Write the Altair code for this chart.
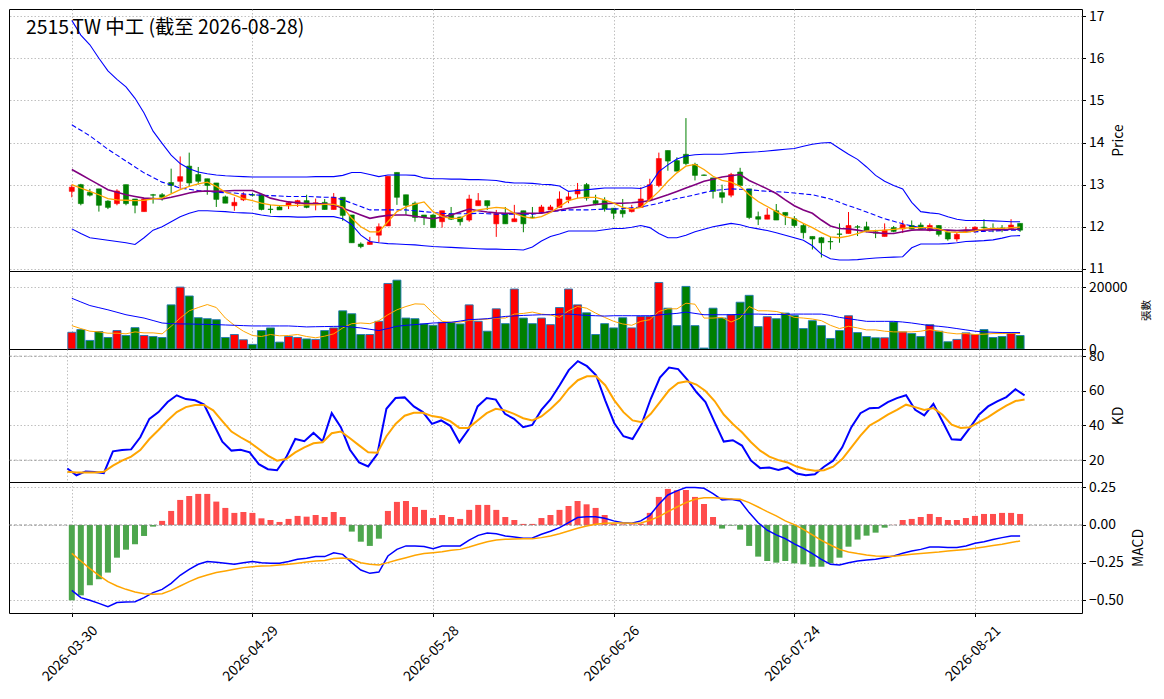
import altair as alt
import pandas as pd

FONT = "Noto Sans CJK TC"
TITLE = "2515.TW 中工 (截至 2026-08-28)"

_HOLIDAYS = {"2026-04-03", "2026-04-06", "2026-05-01", "2026-06-19"}
DATES = [d.strftime("%Y-%m-%d") for d in pd.bdate_range("2026-03-30", "2026-08-28")
         if d.strftime("%Y-%m-%d") not in _HOLIDAYS]
TICK_IDX = [0, 20, 40, 60, 80, 100]
TICK_LABELS = [DATES[i] for i in TICK_IDX]

OPEN = [12.84, 13.00, 12.82, 12.90, 12.61, 12.55, 13.00, 12.66, 12.36, 12.76,
        12.76, 13.05, 13.08, 13.44, 13.24, 13.14, 13.04, 12.71, 12.50, 12.64,
        12.76, 12.76, 12.42, 12.47, 12.50, 12.55, 12.62, 12.55, 12.58, 12.41,
        12.70, 12.28, 11.59, 11.58, 11.80, 12.02, 13.29, 12.76, 12.56, 12.28,
        12.28, 12.12, 12.30, 12.23, 12.16, 12.50, 12.62, 12.07, 12.31, 12.12,
        12.38, 12.23, 12.34, 12.40, 12.46, 12.64, 12.78, 13.00, 12.62, 12.62,
        12.44, 12.39, 12.36, 12.46, 12.64, 12.98, 13.81, 13.57, 13.72, 13.48,
        13.23, 13.16, 12.81, 12.75, 13.30, 12.90, 12.24, 12.18, 12.38, 12.34,
        12.19, 12.03, 11.77, 11.74, 11.65, 11.83, 11.84, 12.00, 12.00, 11.88,
        11.77, 11.98, 11.95, 12.03, 12.04, 11.91, 12.03, 11.87, 11.71, 11.88,
        11.89, 11.99, 11.95, 11.97, 11.96, 12.08]
HIGH = [13.00, 13.02, 12.90, 12.90, 12.63, 12.89, 13.00, 12.66, 12.68, 12.78,
        12.80, 13.38, 13.67, 13.76, 13.42, 13.14, 13.04, 12.74, 12.70, 12.82,
        12.80, 12.76, 12.52, 12.49, 12.60, 12.64, 12.76, 12.67, 12.66, 12.80,
        12.70, 12.28, 11.63, 11.76, 12.08, 13.20, 13.29, 12.76, 12.60, 12.28,
        12.30, 12.38, 12.47, 12.24, 12.76, 12.80, 12.62, 12.40, 12.47, 12.52,
        12.38, 12.47, 12.52, 12.52, 12.84, 12.82, 13.04, 13.04, 12.76, 12.70,
        12.44, 12.66, 12.52, 12.94, 13.14, 13.76, 13.81, 13.65, 14.58, 13.52,
        13.24, 13.16, 13.00, 13.28, 13.40, 12.90, 12.36, 12.44, 12.54, 12.34,
        12.25, 12.08, 11.77, 11.76, 11.76, 12.08, 12.35, 12.04, 12.12, 11.93,
        12.08, 12.02, 12.15, 12.15, 12.10, 12.08, 12.04, 11.88, 11.88, 12.00,
        12.01, 12.18, 12.08, 12.04, 12.18, 12.08]
LOW = [12.70, 12.51, 12.72, 12.36, 12.42, 12.51, 12.51, 12.32, 12.36, 12.55,
       12.62, 12.79, 12.90, 12.96, 13.00, 12.76, 12.47, 12.56, 12.38, 12.61,
       12.72, 12.39, 12.32, 12.40, 12.42, 12.47, 12.44, 12.39, 12.41, 12.41,
       12.14, 11.62, 11.49, 11.58, 11.63, 12.02, 12.52, 12.28, 12.12, 12.04,
       11.98, 11.98, 12.16, 12.03, 12.12, 12.50, 12.40, 11.76, 12.07, 12.12,
       11.87, 12.21, 12.32, 12.40, 12.46, 12.56, 12.68, 12.62, 12.51, 12.36,
       12.18, 12.22, 12.34, 12.46, 12.62, 12.94, 13.33, 13.32, 13.46, 13.10,
       13.21, 12.67, 12.56, 12.70, 12.98, 12.18, 12.04, 12.18, 12.16, 12.04,
       11.98, 11.72, 11.46, 11.27, 11.46, 11.62, 11.84, 11.78, 11.87, 11.73,
       11.77, 11.87, 11.85, 11.94, 11.94, 11.89, 11.77, 11.67, 11.65, 11.86,
       11.86, 11.94, 11.87, 11.87, 11.94, 11.88]
CLOSE = [12.94, 12.55, 12.75, 12.51, 12.46, 12.85, 12.55, 12.51, 12.66, 12.75,
         12.70, 12.98, 13.19, 13.04, 13.08, 12.98, 12.65, 12.56, 12.58, 12.76,
         12.75, 12.41, 12.41, 12.40, 12.57, 12.62, 12.46, 12.57, 12.41, 12.70,
         12.27, 11.62, 11.53, 11.64, 12.00, 13.20, 12.70, 12.51, 12.22, 12.22,
         11.98, 12.38, 12.18, 12.12, 12.66, 12.62, 12.50, 12.31, 12.07, 12.19,
         12.07, 12.22, 12.47, 12.47, 12.66, 12.71, 12.88, 12.68, 12.55, 12.42,
         12.32, 12.31, 12.42, 12.66, 13.00, 13.62, 13.56, 13.32, 13.50, 13.22,
         13.22, 12.84, 12.70, 13.24, 12.98, 12.22, 12.18, 12.28, 12.16, 12.27,
         12.03, 11.86, 11.71, 11.62, 11.64, 11.82, 12.03, 11.99, 11.91, 11.85,
         11.92, 11.89, 12.05, 11.95, 11.96, 12.03, 11.82, 11.71, 11.82, 11.92,
         11.99, 11.98, 11.94, 11.96, 12.04, 11.92]

MA5 = [13.00, 12.92, 12.84, 12.76, 12.67, 12.64, 12.63, 12.62, 12.63, 12.66,
       12.68, 12.78, 12.88, 12.96, 13.02, 13.06, 12.96, 12.82, 12.75, 12.67,
       12.62, 12.56, 12.52, 12.50, 12.50, 12.51, 12.52, 12.52, 12.53, 12.53,
       12.47, 12.20, 12.00, 11.88, 11.88, 12.12, 12.36, 12.47, 12.54, 12.59,
       12.36, 12.24, 12.20, 12.20, 12.32, 12.40, 12.43, 12.46, 12.44, 12.32,
       12.24, 12.20, 12.24, 12.34, 12.48, 12.62, 12.68, 12.70, 12.70, 12.64,
       12.56, 12.46, 12.42, 12.46, 12.64, 12.84, 13.08, 13.28, 13.44, 13.48,
       13.36, 13.20, 13.10, 13.06, 12.96, 12.76, 12.60, 12.48, 12.36, 12.24,
       12.19, 12.08, 11.98, 11.86, 11.76, 11.74, 11.78, 11.84, 11.90, 11.91,
       11.92, 11.94, 11.96, 11.98, 11.98, 11.98, 11.95, 11.88, 11.87, 11.87,
       11.90, 11.95, 11.96, 11.96, 11.98, 11.99]
MA10 = [13.36, 13.24, 13.12, 13.00, 12.88, 12.82, 12.76, 12.72, 12.68, 12.67,
        12.66, 12.70, 12.75, 12.80, 12.84, 12.85, 12.84, 12.85, 12.86, 12.86,
        12.86, 12.78, 12.68, 12.63, 12.59, 12.57, 12.55, 12.55, 12.54, 12.52,
        12.44, 12.36, 12.28, 12.20, 12.24, 12.27, 12.28, 12.28, 12.25, 12.22,
        12.19, 12.23, 12.28, 12.35, 12.42, 12.38, 12.35, 12.33, 12.32, 12.32,
        12.32, 12.32, 12.32, 12.36, 12.40, 12.44, 12.47, 12.50, 12.53, 12.55,
        12.56, 12.56, 12.57, 12.59, 12.62, 12.69, 12.76, 12.84, 12.92, 13.00,
        13.08, 13.13, 13.18, 13.21, 13.24, 13.10, 13.00, 12.90, 12.79, 12.64,
        12.50, 12.40, 12.32, 12.16, 12.02, 11.96, 11.95, 11.92, 11.88, 11.86,
        11.84, 11.84, 11.88, 11.92, 11.93, 11.92, 11.92, 11.92, 11.91, 11.92,
        11.92, 11.92, 11.93, 11.93, 11.94, 11.94]
BB_MID = [14.42, 14.29, 14.16, 14.00, 13.84, 13.70, 13.56, 13.42, 13.28, 13.17,
          13.06, 12.99, 12.92, 12.89, 12.86, 12.84, 12.82, 12.81, 12.80, 12.78,
          12.76, 12.75, 12.74, 12.73, 12.72, 12.72, 12.72, 12.71, 12.70, 12.70,
          12.64, 12.56, 12.48, 12.40, 12.40, 12.40, 12.40, 12.40, 12.38, 12.36,
          12.34, 12.32, 12.31, 12.31, 12.31, 12.32, 12.31, 12.30, 12.30, 12.30,
          12.30, 12.30, 12.33, 12.36, 12.38, 12.40, 12.40, 12.40, 12.41, 12.42,
          12.42, 12.43, 12.45, 12.47, 12.51, 12.56, 12.62, 12.67, 12.71, 12.76,
          12.81, 12.86, 12.88, 12.90, 12.89, 12.88, 12.86, 12.84, 12.83, 12.82,
          12.80, 12.78, 12.76, 12.71, 12.66, 12.58, 12.50, 12.43, 12.35, 12.27,
          12.19, 12.13, 12.07, 12.02, 11.98, 11.95, 11.92, 11.91, 11.90, 11.89,
          11.88, 11.89, 11.90, 11.91, 11.92, 11.92]
BB_UP = [16.90, 16.55, 16.32, 16.00, 15.70, 15.50, 15.32, 15.05, 14.70, 14.27,
         13.98, 13.70, 13.50, 13.38, 13.30, 13.26, 13.23, 13.21, 13.20, 13.19,
         13.18, 13.18, 13.18, 13.18, 13.18, 13.18, 13.18, 13.19, 13.19, 13.19,
         13.22, 13.29, 13.29, 13.24, 13.19, 13.23, 13.23, 13.23, 13.22, 13.16,
         13.14, 13.14, 13.13, 13.13, 13.12, 13.12, 13.11, 13.10, 13.06, 13.04,
         13.04, 13.03, 13.01, 13.00, 12.97, 12.84, 12.86, 12.88, 12.90, 12.92,
         12.92, 12.92, 12.92, 12.91, 12.99, 13.31, 13.47, 13.61, 13.68, 13.71,
         13.72, 13.72, 13.72, 13.74, 13.76, 13.77, 13.78, 13.80, 13.82, 13.84,
         13.86, 13.91, 13.96, 13.99, 14.00, 13.86, 13.72, 13.60, 13.42, 13.22,
         13.08, 12.98, 12.90, 12.58, 12.36, 12.33, 12.31, 12.24, 12.18, 12.15,
         12.15, 12.15, 12.14, 12.13, 12.12, 12.12]
BB_LOW = [11.95, 11.84, 11.74, 11.71, 11.68, 11.65, 11.62, 11.58, 11.74, 11.92,
          12.00, 12.12, 12.24, 12.32, 12.38, 12.38, 12.37, 12.36, 12.34, 12.33,
          12.32, 12.28, 12.25, 12.24, 12.24, 12.23, 12.23, 12.24, 12.24, 12.24,
          12.19, 12.05, 11.80, 11.65, 11.62, 11.60, 11.59, 11.58, 11.57, 11.55,
          11.53, 11.52, 11.51, 11.50, 11.49, 11.48, 11.47, 11.47, 11.46, 11.46,
          11.45, 11.52, 11.66, 11.77, 11.83, 11.90, 11.90, 11.90, 11.90, 11.93,
          11.96, 11.96, 11.99, 12.03, 11.98, 11.84, 11.74, 11.74, 11.80, 11.88,
          11.94, 12.00, 12.04, 12.08, 12.05, 11.99, 11.95, 11.91, 11.86, 11.80,
          11.74, 11.68, 11.55, 11.35, 11.24, 11.21, 11.21, 11.22, 11.24, 11.26,
          11.27, 11.28, 11.29, 11.50, 11.59, 11.59, 11.59, 11.60, 11.62, 11.65,
          11.66, 11.67, 11.69, 11.73, 11.78, 11.79]

VOL = [5400, 6280, 2770, 5640, 3720, 5960, 4360, 6900, 4360, 4040,
       3720, 14260, 20000, 17130, 10110, 9790, 9470, 3720, 4680, 2980,
       1490, 5960, 6810, 2230, 4040, 3720, 3250, 3090, 5960, 6810,
       12340, 11390, 4680, 4680, 8940, 21170, 22240, 10000, 9790, 8090,
       7660, 8620, 8620, 8090, 14260, 8940, 5750, 12980, 8190, 19370,
       10000, 8190, 10000, 7870, 13400, 19370, 14260, 11700, 4680, 8190,
       6810, 10110, 6810, 10530, 10530, 21490, 13190, 7550, 20220, 7550,
       300, 13190, 10000, 11070, 15110, 17340, 7230, 10430, 9790, 11600,
       10850, 6600, 9150, 7550, 3400, 5960, 10750, 5320, 4040, 3620,
       3620, 8720, 5530, 5000, 4040, 7870, 5750, 2340, 3090, 5210,
       4680, 6280, 3720, 4040, 5100, 4360]
VMA5 = [7550, 6600, 5750, 5530, 5100, 5100, 4900, 5530, 5210, 5210,
        4900, 7340, 10000, 12340, 13400, 14360, 13400, 10000, 7660, 5750,
        4360, 4040, 4680, 4260, 4360, 4680, 4040, 3620, 4150, 4900,
        6810, 8190, 8400, 8190, 9150, 11070, 12660, 13730, 14580, 14470,
        11600, 8940, 8620, 8720, 9260, 9470, 9680, 10000, 10000, 11280,
        11490, 11920, 11280, 11000, 10210, 12340, 13730, 13190, 11600, 10210,
        8940, 8090, 7660, 8940, 9470, 12130, 12980, 12980, 14790, 14470,
        10000, 10000, 10210, 8720, 10000, 13730, 12340, 12340, 12130, 11380,
        10210, 10000, 9680, 9150, 7660, 6600, 7340, 6810, 6170, 6170,
        5750, 5530, 5530, 5530, 5750, 6280, 5750, 5210, 4890, 4990,
        4680, 4790, 4990, 4990, 5100, 4990]
VMA20 = [16390, 15200, 14040, 13350, 12660, 11870, 11070, 10530, 10000, 9200,
         8400, 8190, 8100, 8080, 8000, 7950, 7870, 7760, 7660, 7550,
         7450, 7450, 7450, 7450, 7450, 7300, 7130, 7200, 7250, 7300,
         7340, 7080, 6810, 6380, 5960, 6600, 7340, 7660, 7870, 8130,
         8400, 8500, 8620, 9040, 9470, 9630, 9790, 10160, 10530, 10690,
         10850, 10960, 11070, 11070, 11280, 11280, 11070, 10850, 10750, 10640,
         10750, 10750, 10750, 10750, 10750, 11000, 11280, 11500, 11920, 11500,
         11070, 11070, 11070, 11070, 11180, 11280, 11280, 11180, 11180, 11180,
         11280, 11280, 11280, 11280, 10850, 10210, 9790, 9360, 8940, 8940,
         8940, 8940, 8720, 8400, 7980, 7550, 7340, 7020, 6600, 6170,
         5750, 5530, 5420, 5320, 5320, 5320]

K = [15.2, 11.3, 13.5, 13.1, 12.5, 25.1, 25.8, 26.2, 33.2, 43.8,
     47.7, 53.5, 57.4, 55.2, 54.5, 52.1, 41.3, 30.7, 25.5, 26.0,
     24.5, 17.7, 14.8, 14.2, 21.6, 32.2, 30.9, 35.7, 30.9, 47.1,
     39.0, 26.0, 18.7, 16.4, 23.5, 49.6, 55.8, 56.2, 51.0, 47.7,
     40.9, 42.9, 39.8, 30.3, 37.6, 51.0, 55.8, 54.9, 46.7, 43.8,
     39.0, 40.3, 49.0, 55.0, 63.2, 71.9, 77.1, 74.2, 69.0, 54.5,
     41.3, 33.8, 32.2, 40.9, 55.4, 67.6, 73.4, 72.5, 66.5, 59.3,
     53.5, 41.9, 30.7, 31.5, 28.4, 19.7, 15.4, 15.8, 14.4, 15.8,
     12.3, 11.3, 11.9, 16.2, 19.7, 27.4, 39.0, 47.1, 50.0, 50.2,
     53.5, 55.8, 57.4, 49.0, 45.8, 52.5, 42.3, 32.0, 31.7, 38.6,
     46.2, 51.0, 53.9, 56.4, 60.9, 57.4]
D = [13.3, 12.9, 12.9, 12.9, 13.3, 16.8, 19.7, 22.0, 25.8, 32.2,
     37.4, 42.9, 47.7, 50.6, 51.8, 51.8, 48.7, 42.5, 36.5, 33.2,
     30.3, 26.4, 22.6, 19.7, 20.7, 24.5, 27.4, 29.7, 30.3, 35.5,
     36.5, 32.6, 28.5, 24.5, 24.3, 33.8, 40.9, 45.6, 47.3, 47.3,
     45.4, 44.6, 42.5, 38.6, 38.6, 42.9, 47.1, 49.6, 48.7, 46.7,
     44.2, 42.9, 45.2, 49.5, 54.5, 61.2, 66.1, 68.4, 68.4, 63.2,
     54.5, 47.7, 42.9, 41.9, 46.7, 53.5, 60.3, 64.5, 65.5, 63.6,
     59.9, 54.1, 46.3, 40.9, 36.1, 30.3, 25.5, 22.0, 20.0, 18.7,
     16.3, 14.8, 13.9, 14.2, 16.2, 20.6, 27.4, 34.2, 40.0, 42.9,
     46.2, 49.0, 52.0, 50.6, 49.0, 50.0, 46.2, 40.5, 38.6, 39.0,
     41.9, 44.8, 48.3, 51.4, 54.1, 55.0]

HIST = [-0.500, -0.467, -0.400, -0.360, -0.316, -0.217, -0.164, -0.128, -0.073, -0.011,
        0.027, 0.093, 0.166, 0.192, 0.206, 0.206, 0.155, 0.113, 0.080, 0.086,
        0.080, 0.044, 0.033, 0.020, 0.040, 0.060, 0.055, 0.066, 0.053, 0.086,
        0.053, -0.044, -0.111, -0.139, -0.091, 0.093, 0.153, 0.159, 0.119, 0.100,
        0.046, 0.066, 0.053, 0.040, 0.100, 0.133, 0.133, 0.100, 0.053, 0.033,
        0.007, 0.007, 0.046, 0.066, 0.100, 0.126, 0.159, 0.137, 0.113, 0.066,
        0.009, 0.004, 0.004, 0.009, 0.080, 0.186, 0.239, 0.230, 0.232, 0.186,
        0.139, 0.053, -0.024, -0.004, -0.031, -0.139, -0.210, -0.239, -0.250, -0.239,
        -0.255, -0.261, -0.277, -0.277, -0.254, -0.217, -0.144, -0.097, -0.071, -0.051,
        -0.018, 0.001, 0.033, 0.040, 0.053, 0.073, 0.053, 0.033, 0.033, 0.046,
        0.060, 0.073, 0.073, 0.080, 0.080, 0.073]
DIF = [-0.434, -0.482, -0.500, -0.520, -0.542, -0.515, -0.511, -0.509, -0.482, -0.449,
       -0.427, -0.387, -0.334, -0.294, -0.261, -0.243, -0.248, -0.254, -0.261, -0.250,
       -0.243, -0.250, -0.254, -0.254, -0.243, -0.228, -0.221, -0.210, -0.210, -0.184,
       -0.195, -0.250, -0.299, -0.321, -0.312, -0.206, -0.162, -0.139, -0.139, -0.143,
       -0.157, -0.139, -0.139, -0.139, -0.100, -0.069, -0.053, -0.058, -0.073, -0.080,
       -0.088, -0.086, -0.062, -0.042, -0.018, 0.015, 0.049, 0.055, 0.055, 0.044,
       0.027, 0.015, 0.011, 0.027, 0.064, 0.137, 0.199, 0.226, 0.248, 0.248,
       0.243, 0.208, 0.166, 0.170, 0.159, 0.082, 0.015, -0.035, -0.066, -0.091,
       -0.126, -0.155, -0.190, -0.228, -0.261, -0.265, -0.250, -0.239, -0.232, -0.228,
       -0.217, -0.206, -0.188, -0.173, -0.162, -0.146, -0.146, -0.150, -0.150, -0.139,
       -0.122, -0.111, -0.097, -0.084, -0.073, -0.073]
DEA = [-0.188, -0.239, -0.290, -0.334, -0.376, -0.405, -0.427, -0.445, -0.456, -0.460,
       -0.456, -0.434, -0.405, -0.376, -0.350, -0.332, -0.316, -0.305, -0.294, -0.283,
       -0.277, -0.272, -0.270, -0.265, -0.261, -0.254, -0.246, -0.239, -0.235, -0.223,
       -0.219, -0.228, -0.250, -0.261, -0.265, -0.250, -0.232, -0.217, -0.201, -0.190,
       -0.184, -0.177, -0.168, -0.162, -0.146, -0.128, -0.111, -0.100, -0.095, -0.093,
       -0.092, -0.091, -0.084, -0.073, -0.058, -0.040, -0.022, -0.007, 0.004, 0.011,
       0.013, 0.013, 0.011, 0.013, 0.031, 0.055, 0.088, 0.119, 0.148, 0.170,
       0.181, 0.181, 0.177, 0.173, 0.170, 0.148, 0.119, 0.088, 0.060, 0.027,
       0.002, -0.029, -0.066, -0.102, -0.133, -0.162, -0.179, -0.190, -0.199, -0.206,
       -0.208, -0.207, -0.201, -0.195, -0.190, -0.184, -0.180, -0.173, -0.168, -0.162,
       -0.155, -0.146, -0.137, -0.128, -0.117, -0.106]

N = len(DATES)
for _arr in (OPEN, HIGH, LOW, CLOSE, MA5, MA10, BB_MID, BB_UP, BB_LOW, VOL, VMA5,
             VMA20, K, D, HIST, DIF, DEA):
    assert len(_arr) == N, len(_arr)

df = pd.DataFrame({
    "i": list(range(N)), "date": DATES,
    "o": OPEN, "h": HIGH, "l": LOW, "c": CLOSE,
    "ma5": MA5, "ma10": MA10, "mid": BB_MID, "up": BB_UP, "lo": BB_LOW,
    "vol": VOL, "vma5": VMA5, "vma20": VMA20,
    "k": K, "d": D, "hist": HIST, "dif": DIF, "dea": DEA,
})
df["dir"] = ["up" if c > o else "down" for o, c in zip(OPEN, CLOSE)]

W = 1073
GRID = dict(grid=True, gridDash=[1.5, 2], gridColor="#b0b0b0", gridWidth=0.8)
xscale = alt.Scale(domain=[-6.4, 111.3], nice=False, zero=False)
x_hidden = alt.Axis(values=TICK_IDX, labels=False, ticks=False, domain=False,
                    title=None, **GRID)
label_arr = "[" + ",".join("'%s'" % s for s in TICK_LABELS) + "]"
x_bottom = alt.Axis(values=TICK_IDX, labelExpr=label_arr + "[round(datum.value/20)]",
                    labelAngle=315, labelAlign="center", labelBaseline="middle",
                    labelPadding=37, labelOverlap=False, labelFontSize=13.9,
                    labelOffset=-2,
                    tickSize=3.5, tickColor="black", domain=False, title=None, **GRID)


def yaxis(values, title, fmt=None, tfs=13.9, pad=8, expr=None):
    kw = dict(orient="right", values=values, title=title, titleAngle=270,
              titleBaseline="top", titlePadding=pad, titleFontSize=tfs,
              titleFontWeight="normal", tickSize=3.5, tickColor="black",
              labelFontSize=13.9, labelPadding=3, domain=False, **GRID)
    if fmt:
        kw["format"] = fmt
    if expr:
        kw["labelExpr"] = expr
    return alt.Axis(**kw)


UP_COLOR, DOWN_COLOR = "#ff0000", "#008000"
cscale = alt.Scale(domain=["up", "down"], range=[UP_COLOR, DOWN_COLOR])

# ---------- price panel ----------
pscale = alt.Scale(domain=[10.95, 17.17], nice=False, zero=False)
pax = yaxis([11, 12, 13, 14, 15, 16, 17], "Price")


def PY(f):
    return alt.Y(f + ":Q", scale=pscale, axis=pax)


pb = alt.Chart(df).encode(x=alt.X("i:Q", scale=xscale, axis=x_hidden))
wick = pb.mark_rule(strokeWidth=1).encode(
    y=PY("l"), y2="h:Q", color=alt.Color("dir:N", scale=cscale, legend=None))
body = pb.mark_bar(size=5, strokeWidth=0.6).encode(
    y=PY("o"), y2="c:Q",
    color=alt.Color("dir:N", scale=cscale, legend=None),
    stroke=alt.Stroke("dir:N", scale=cscale, legend=None))
l_up = pb.mark_line(color="#0000ff", strokeWidth=1.1).encode(y=PY("up"))
l_lo = pb.mark_line(color="#0000ff", strokeWidth=1.1).encode(y=PY("lo"))
l_mid = pb.mark_line(color="#0000ff", strokeWidth=1.1, strokeDash=[5, 2.5]).encode(y=PY("mid"))
l_ma10 = pb.mark_line(color="#800080", strokeWidth=1.6).encode(y=PY("ma10"))
l_ma5 = pb.mark_line(color="#ffa500", strokeWidth=1.3).encode(y=PY("ma5"))
title = alt.Chart(pd.DataFrame({"t": [TITLE]})).mark_text(
    align="left", baseline="top", font=FONT, fontSize=19.4, color="black"
).encode(text="t:N", x=alt.value(17), y=alt.value(10))
price = alt.layer(wick, body, l_up, l_lo, l_mid, l_ma10, l_ma5, title).properties(
    width=W, height=262)

# ---------- volume panel ----------
vscale = alt.Scale(domain=[0, 25200], nice=False)
vax = yaxis([0, 20000], "張數", fmt="d", tfs=10.5, pad=14)


def VY(f):
    return alt.Y(f + ":Q", scale=vscale, axis=vax)


vb = alt.Chart(df).encode(x=alt.X("i:Q", scale=xscale, axis=x_hidden))
vbars = vb.mark_bar(size=8, stroke="#1f77b4", strokeWidth=0.9).encode(
    y=VY("vol"), color=alt.Color("dir:N", scale=cscale, legend=None))
v5 = vb.mark_line(color="#ffa500", strokeWidth=1.0).encode(y=VY("vma5"))
v20 = vb.mark_line(color="#0000ff", strokeWidth=1.0).encode(y=VY("vma20"))
volume = alt.layer(vbars, v5, v20).properties(width=W, height=78)

# ---------- KD panel ----------
kscale = alt.Scale(domain=[7.4, 84.1], nice=False, zero=False)
kax = yaxis([20, 40, 60, 80], "KD")


def KY(f):
    return alt.Y(f + ":Q", scale=kscale, axis=kax)


kb = alt.Chart(df).encode(x=alt.X("i:Q", scale=xscale, axis=x_hidden))
kref = alt.Chart(pd.DataFrame({"v": [20, 80]})).mark_rule(
    color="#808080", strokeDash=[3, 2], strokeWidth=0.8, opacity=0.7
).encode(y=KY("v"))
kline = kb.mark_line(color="#0000ff", strokeWidth=2.0).encode(y=KY("k"))
dline = kb.mark_line(color="#ffa500", strokeWidth=2.0).encode(y=KY("d"))
kd = alt.layer(kref, kline, dline).properties(width=W, height=133)

# ---------- MACD panel ----------
mscale = alt.Scale(domain=[-0.584, 0.285], nice=False, zero=False)
max_ = yaxis([-0.5, -0.25, 0, 0.25], "MACD",
             expr="replace(format(datum.value, '.2f'), '-', '\u2212')")


def MY(f):
    return alt.Y(f + ":Q", scale=mscale, axis=max_)


mb = alt.Chart(df).encode(x=alt.X("i:Q", scale=xscale, axis=x_bottom))
hpos = mb.transform_filter("datum.hist >= 0").mark_bar(size=6, color="#ff4d4d").encode(
    y=MY("hist"))
hneg = mb.transform_filter("datum.hist < 0").mark_bar(size=6, color="#4da64d").encode(
    y=MY("hist"))
zero = alt.Chart(pd.DataFrame({"v": [0]})).mark_rule(
    color="#808080", strokeDash=[3, 2], strokeWidth=0.8).encode(y=MY("v"))
difl = mb.mark_line(color="#0000ff", strokeWidth=1.5).encode(y=MY("dif"))
deal = mb.mark_line(color="#ffa500", strokeWidth=1.5).encode(y=MY("dea"))
macd = alt.layer(hpos, hneg, zero, difl, deal).properties(width=W, height=131)

chart = alt.vconcat(price, volume, kd, macd, spacing=0, bounds="flush").properties(
    padding={"left": 0, "top": 0, "right": 2, "bottom": 2}
).configure_view(stroke="black", strokeWidth=1).configure_axis(
    labelFont=FONT, titleFont=FONT, labelColor="black", titleColor="black"
)

chart.save("out.html", embed_options={"renderer": "svg", "actions": False})
